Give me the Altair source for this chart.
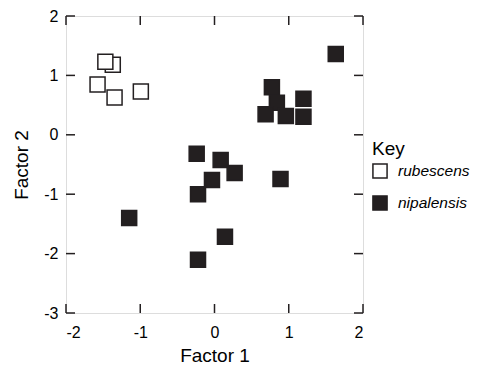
import altair as alt
import pandas as pd

rub_x = [-1.37, -1.47, -1.575, -1.346, -0.992]
rub_y = [1.18, 1.23, 0.847, 0.628, 0.729]
nip_x = [1.633, 0.773, 0.840, 0.688, 0.961, 1.198, 1.198, -0.240, 0.083, 0.271, -0.034, -0.222, 0.889, -1.149, 0.141, -0.222]
nip_y = [1.362, 0.802, 0.539, 0.348, 0.315, 0.606, 0.304, -0.320, -0.424, -0.643, -0.760, -1.001, -0.743, -1.399, -1.718, -2.104]
species = ["rubescens", "nipalensis"]
x_ticks = [-2, -1, 0, 1, 2]
y_ticks = [-3, -2, -1, 0, 1, 2]

df = pd.DataFrame({
    "f1": rub_x + nip_x,
    "f2": rub_y + nip_y,
    "sp": [species[0]] * len(rub_x) + [species[1]] * len(nip_x),
})
df["order"] = range(len(df))

W, H = 297, 297
FONT = "Liberation Sans"
INK = "#231f20"
TL = 9
LBL = "'' + datum.value"

xs = alt.Scale(domain=[-2, 2], nice=False, zero=False)
ys = alt.Scale(domain=[-3, 2], nice=False, zero=False)

pts = alt.Chart(df).mark_point(shape="square", size=225, strokeWidth=1.5, stroke=INK, opacity=1, filled=False).encode(
    x=alt.X("f1:Q", scale=xs, title="Factor 1",
            axis=alt.Axis(values=x_ticks, labelExpr=LBL, tickSize=0, domain=False, grid=False, labelPadding=11,
                          labelFontSize=16, titleFontSize=19, titleFontWeight="normal", titlePadding=6,
                          labelColor="black", titleColor="black", labelFont=FONT, titleFont=FONT)),
    y=alt.Y("f2:Q", scale=ys, title="Factor 2",
            axis=alt.Axis(values=y_ticks, labelExpr=LBL, tickSize=0, domain=False, grid=False, labelPadding=8,
                          labelFontSize=16, titleFontSize=19, titleFontWeight="normal", titlePadding=12,
                          labelColor="black", titleColor="black", labelFont=FONT, titleFont=FONT)),
    fill=alt.Fill("sp:N", scale=alt.Scale(domain=species, range=["white", INK]),
                  legend=alt.Legend(title="Key", orient="none", legendX=306, legendY=124,
                                    titleFontSize=19, titleFontWeight="normal", titleFont=FONT,
                                    titleColor="black", labelFont=FONT, labelFontSize=15.5,
                                    labelFontStyle="italic", labelColor="black", symbolType="square",
                                    symbolSize=200, symbolStrokeColor=INK, symbolStrokeWidth=1.5,
                                    rowPadding=10, labelOffset=10, padding=0, titlePadding=4)),
    order="order:Q",
)

xt = pd.DataFrame({"v": x_ticks})
yt = pd.DataFrame({"v": y_ticks})
xb = alt.Chart(xt).mark_rule(color=INK, strokeWidth=1.5).encode(x=alt.X("v:Q", scale=xs), y=alt.value(H), y2=alt.value(H - TL))
xtop = alt.Chart(xt).mark_rule(color=INK, strokeWidth=1.5).encode(x=alt.X("v:Q", scale=xs), y=alt.value(0), y2=alt.value(TL))
yl = alt.Chart(yt).mark_rule(color=INK, strokeWidth=1.5).encode(y=alt.Y("v:Q", scale=ys), x=alt.value(0), x2=alt.value(TL))
yr = alt.Chart(yt).mark_rule(color=INK, strokeWidth=1.5).encode(y=alt.Y("v:Q", scale=ys), x=alt.value(W), x2=alt.value(W - TL))

chart = alt.layer(xb, xtop, yl, yr, pts).properties(
    width=W, height=H,
    autosize=alt.AutoSizeParams(type="none"),
    padding={"left": 58, "top": 8, "right": 110, "bottom": 52},
).configure_view(
    stroke=INK, strokeWidth=1.5
).configure(background="white")

chart.save("out.html", embed_options={"renderer": "svg", "actions": False})
